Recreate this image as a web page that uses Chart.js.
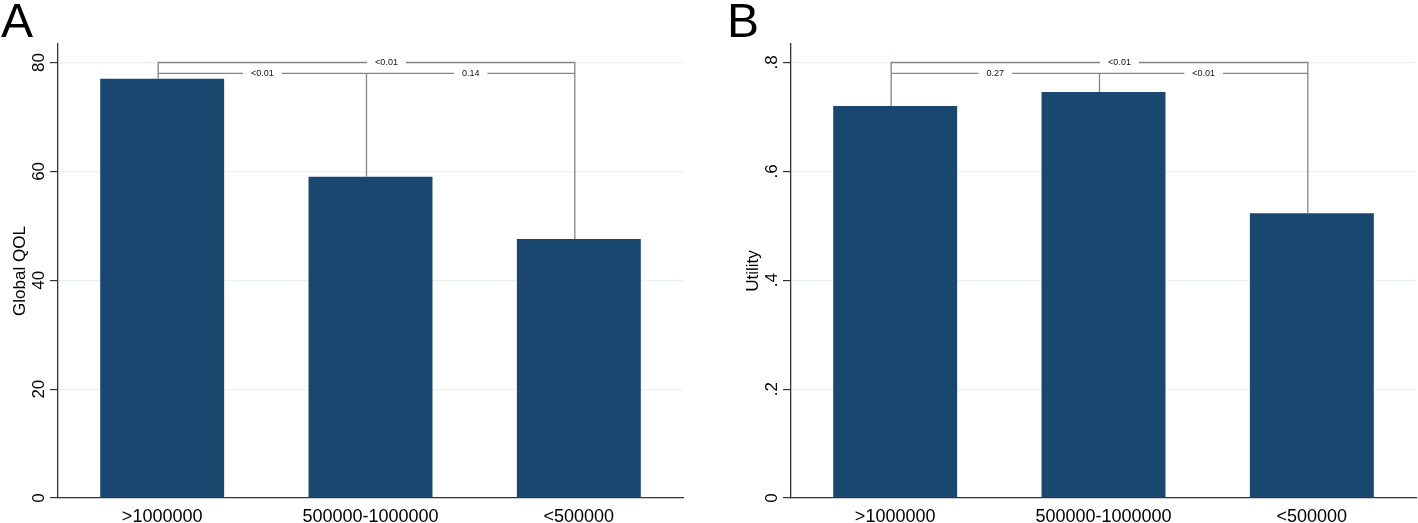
<!DOCTYPE html>
<html>
<head>
<meta charset="utf-8">
<script src="https://cdn.jsdelivr.net/npm/chart.js@4.4.1/dist/chart.umd.min.js"></script>
<style>
    body { margin: 0; background: #ffffff; }
    #wrap { position: relative; width: 1418px; height: 523px; overflow: hidden; }
    .panel { position: absolute; top: 0; }
    .letter {
        position: absolute; top: -3px;
        font-family: Arial, "Liberation Sans", sans-serif;
        font-size: 48px; line-height: 48px; color: #000;
    }
</style>
</head>
<body>
<div id="wrap">
    <div class="panel" style="left:0px"><canvas id="chartA" width="700" height="523"></canvas></div>
    <div class="panel" style="left:733px"><canvas id="chartB" width="685" height="523"></canvas></div>
    <div class="letter" style="left:1px">A</div>
    <div class="letter" style="left:727px">B</div>
</div>
<script>
// income groups
var categories = ['>1000000', '500000-1000000', '<500000'];

// panel A: mean Global QOL
var qolMeans = [77.0, 59.0, 47.6];
var qolTicks = [0, 20, 40, 60, 80];
var qolTickLabels = ['0', '20', '40', '60', '80'];
// p-values: first vs last, first vs middle, middle vs last
var qolPvals = ['<0.01', '<0.01', '0.14'];

// panel B: mean utility
var utilityMeans = [0.720, 0.746, 0.523];
var utilityTicks = [0, 0.2, 0.4, 0.6, 0.8];
var utilityTickLabels = ['0', '.2', '.4', '.6', '.8'];
var utilityPvals = ['<0.01', '0.27', '<0.01'];

var FONT = 'Arial, "Liberation Sans", sans-serif';
var NAVY = '#1a476f';

// draws rotated y labels, axis title and the significance brackets
var statPlugin = {
    id: 'stat',
    afterDraw: function (chart) {
        var opt = chart.options.plugins.stat;
        var ctx = chart.ctx;
        var xs = chart.scales.x;
        var ys = chart.scales.y;
        var area = chart.chartArea;
        ctx.save();

        // y tick labels (Stata style, vertical)
        ctx.fillStyle = '#000';
        ctx.font = '17px ' + FONT;
        ctx.textAlign = 'center';
        ctx.textBaseline = 'alphabetic';
        for (var i = 0; i < opt.ticks.length; i++) {
            var py = ys.getPixelForValue(opt.ticks[i]);
            ctx.save();
            ctx.translate(area.left - 14, py);
            ctx.rotate(-Math.PI / 2);
            ctx.fillText(opt.tickLabels[i], 0, 0);
            ctx.restore();
        }

        // axis title
        ctx.save();
        ctx.translate(area.left - 33, (area.top + area.bottom) / 2);
        ctx.rotate(-Math.PI / 2);
        ctx.fillText(opt.title, 0, 0);
        ctx.restore();

        // brackets
        var vals = opt.values;
        var px = function (idx) { return xs.getPixelForValue(idx) - 4; };
        var top = opt.ticks[opt.ticks.length - 1];
        var yTop = ys.getPixelForValue(top);
        var yLow = ys.getPixelForValue(top * 0.975);

        ctx.strokeStyle = '#858585';
        ctx.lineWidth = 1.3;
        ctx.beginPath();
        ctx.moveTo(px(0), ys.getPixelForValue(vals[0]));
        ctx.lineTo(px(0), yTop);
        ctx.lineTo(px(2), yTop);
        ctx.lineTo(px(2), ys.getPixelForValue(vals[2]));
        ctx.moveTo(px(0), yLow);
        ctx.lineTo(px(2), yLow);
        ctx.moveTo(px(1), yLow);
        ctx.lineTo(px(1), ys.getPixelForValue(vals[1]));
        ctx.stroke();

        ctx.font = '9px ' + FONT;
        ctx.textBaseline = 'middle';
        var label = function (txt, x, y) {
            var w = ctx.measureText(txt).width;
            ctx.fillStyle = '#ffffff';
            ctx.fillRect(x - w / 2 - 8, y - 4, w + 16, 8);
            ctx.fillStyle = '#111';
            ctx.fillText(txt, x, y + 0.5);
        };
        label(opt.pvals[0], (px(0) + px(2)) / 2 + 20, yTop);
        label(opt.pvals[1], (px(0) + px(1)) / 2, yLow);
        label(opt.pvals[2], (px(1) + px(2)) / 2, yLow);

        ctx.restore();
    }
};

function createChart(id, values, ticks, tickLabels, yMax, title, pvals, padRight) {
    var ctx = document.getElementById(id);
    var data = {
        labels: categories,
        datasets: [{
            data: values,
            backgroundColor: NAVY,
            borderWidth: 0,
            barPercentage: 0.595,
            categoryPercentage: 1.0
        }]
    };
    var options = {
        responsive: false,
        animation: false,
        devicePixelRatio: 1,
        layout: { padding: { top: 44, right: padRight, left: 0, bottom: 0 } },
        plugins: {
            legend: { display: false },
            tooltip: { enabled: false },
            stat: { ticks: ticks, tickLabels: tickLabels, title: title, values: values, pvals: pvals }
        },
        scales: {
            x: {
                grid: { display: false, drawTicks: false },
                border: { display: true, color: '#333', width: 1.3 },
                ticks: { color: '#000', font: { family: FONT, size: 18 }, padding: 8 },
                afterFit: function (scale) { scale.height = 25; }
            },
            y: {
                min: 0,
                max: yMax,
                afterBuildTicks: function (scale) {
                    scale.ticks = ticks.map(function (v) { return { value: v }; });
                },
                grid: {
                    color: function (c) { return c.tick && c.tick.value === 0 ? 'rgba(0,0,0,0)' : '#eaf2f3'; },
                    lineWidth: 1.2,
                    tickColor: '#333',
                    tickLength: 8,
                    drawTicks: true
                },
                border: { display: true, color: '#333', width: 1.3 },
                ticks: { display: false },
                afterFit: function (scale) { scale.width = 58; }
            }
        }
    };
    return new Chart(ctx, { type: 'bar', data: data, options: options, plugins: [statPlugin] });
}

createChart('chartA', qolMeans, qolTicks, qolTickLabels, 83.4, 'Global QOL', qolPvals, 17);
createChart('chartB', utilityMeans, utilityTicks, utilityTickLabels, 0.834, 'Utility', utilityPvals, 2);
</script>
</body>
</html>
